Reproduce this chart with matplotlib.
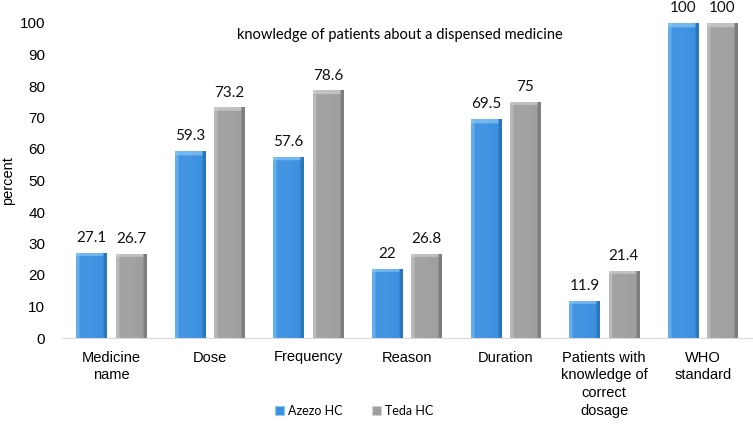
import numpy as np
import matplotlib
matplotlib.use("Agg")
import matplotlib.pyplot as plt
from matplotlib.colors import to_rgb
from matplotlib.patches import Rectangle

categories = ["Medicine\nname", "Dose", "Frequency", "Reason", "Duration",
              "Patients with\nknowledge of\ncorrect\ndosage", "WHO\nstandard"]
azezo = [27.1, 59.3, 57.6, 22, 69.5, 11.9, 100]
teda = [26.7, 73.2, 78.6, 26.8, 75, 21.4, 100]
series_names = ["Azezo HC", "Teda HC"]
value_labels_a = ["27.1", "59.3", "57.6", "22", "69.5", "11.9", "100"]
value_labels_t = ["26.7", "73.2", "78.6", "26.8", "75", "21.4", "100"]

plt.rcParams['font.family'] = ['Liberation Sans', 'DejaVu Sans']
CAL = ['Lato', 'DejaVu Sans']

fig = plt.figure(figsize=(7.53, 4.26), dpi=100)
ax = fig.add_axes([62/753, 1-338/426, 690/753, 315/426])
ax.set_xlim(-0.5, len(categories)-0.5)
ax.set_ylim(0, 100)

def bevel_image(main, light, dark, h_units, w_units, nx=80, ny=300):
    main = np.array(to_rgb(main)); light = np.array(to_rgb(light)); dark = np.array(to_rgb(dark))
    u = np.linspace(0, 1, nx)[None, :]
    yy = np.linspace(0, h_units, ny)[:, None]
    img = np.ones((ny, nx, 3)) * main
    t = 0.10 * np.exp(-((u - 0.35) / 0.35) ** 2)
    img = img + (light - main) * t[..., None]
    bev_x = 0.035 / w_units
    bev_y = 1.2
    leftm = np.broadcast_to(u < bev_x, (ny, nx))
    rightm = np.broadcast_to(u > 1 - bev_x, (ny, nx))
    topm = np.broadcast_to(yy < bev_y, (ny, nx))
    img[leftm] = img[leftm] * 0.5 + light * 0.5
    img[rightm] = img[rightm] * 0.4 + dark * 0.6
    img[topm & ~rightm] = img[topm & ~rightm] * 0.35 + light * 0.65
    return np.clip(img, 0, 1)

x = np.arange(len(categories))
w = 0.31
off = 0.2
specs = [(azezo, -off, '#3c90e0', '#8ccaf6', '#2064a8', value_labels_a),
         (teda, off, '#9e9e9e', '#d2d2d2', '#6a6a6a', value_labels_t)]
for vals, o, main, light, dark, labs in specs:
    bars = ax.bar(x + o, vals, width=w, color=main, edgecolor='none', zorder=2)
    for b, v, lab in zip(bars, vals, labs):
        x0 = b.get_x(); bw = b.get_width()
        img = bevel_image(main, light, dark, v, bw)
        im = ax.imshow(img, extent=[x0, x0 + bw, 0, v], aspect='auto', zorder=3,
                       interpolation='bilinear')
        im.set_clip_path(b)
        ax.text(x0 + bw/2, v + 2.5, lab, ha='center', va='bottom', fontsize=11,
                family=CAL, color='#111111')

ax.set_xlim(-0.5, len(categories)-0.5)
ax.set_ylim(0, 100)
ax.set_yticks(range(0, 101, 10))
ax.set_xticks(x)
ax.set_xticklabels(categories, fontsize=10.5, linespacing=1.35)
ax.tick_params(axis='y', length=0, pad=12, labelsize=11)
ax.tick_params(axis='x', length=0, pad=9)
for s in ['top', 'right', 'left']:
    ax.spines[s].set_visible(False)
ax.spines['bottom'].set_color('#d9d9d9')
ax.spines['bottom'].set_zorder(4)
ax.set_ylabel('percent', fontsize=10.5)
ax.yaxis.set_label_coords((15-62)/690, 0.5)

ax.text(0.49, 0.985, 'knowledge of patients about a dispensed medicine',
        transform=ax.transAxes, ha='center', va='top', fontsize=10.5,
        family=CAL)

handles = [Rectangle((0, 0), 1, 1, facecolor='#3c90e0', edgecolor='#8ccaf6', lw=0.8),
           Rectangle((0, 0), 1, 1, facecolor='#9e9e9e', edgecolor='#d2d2d2', lw=0.8)]
fig.legend(handles, series_names, loc='center', bbox_to_anchor=(354/753, 1-411/426),
           ncol=2, frameon=False, handlelength=0.7, handleheight=0.7,
           handletextpad=0.3, columnspacing=2.4,
           prop={'family': CAL, 'size': 9})

fig.savefig('out.png', dpi=100)
